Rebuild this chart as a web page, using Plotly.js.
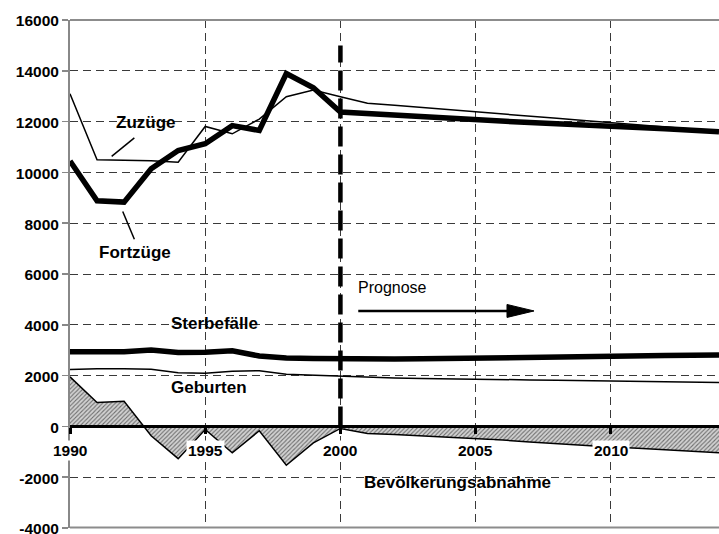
<!DOCTYPE html>
<html>
<head>
<meta charset="utf-8">
<script src="https://cdn.plot.ly/plotly-3.0.1.min.js"></script>
<style>html,body{margin:0;padding:0;background:#fff;}#chart{width:719px;height:534px;}</style>
</head>
<body>
<div id="chart"></div>
<script>
// Data
var years = [1990,1991,1992,1993,1994,1995,1996,1997,1998,1999,2000,2001,2002,2003,2004,2005,2006,2007,2008,2009,2010,2011,2012,2013,2014];
var zuzuege = [13100,10500,10480,10460,10400,11810,11520,12100,12980,13240,12980,12720,12640,12560,12480,12390,12300,12220,12130,12040,11960,11880,11800,11710,11620];
var fortzuege = [10450,8880,8830,10140,10860,11130,11840,11650,13890,13330,12380,12320,12250,12180,12110,12040,12000,11960,11920,11880,11840,11780,11720,11660,11600];
var sterbefaelle = [2940,2940,2940,3010,2910,2920,2980,2770,2690,2670,2650,2650,2650,2660,2680,2700,2720,2730,2740,2760,2770,2780,2790,2800,2810];
var geburten = [2240,2270,2270,2250,2110,2090,2170,2190,2050,2010,1980,1940,1910,1890,1870,1850,1840,1830,1820,1810,1800,1780,1770,1750,1730];
var abnahme = [1950,940,990,-370,-1270,-120,-1040,-170,-1530,-650,-80,-280,-320,-370,-420,-480,-540,-610,-680,-740,-810,-860,-920,-980,-1040];
var xTickVals = [1990,1995,2000,2005,2010];
var xTickText = ['1990','1995','2000','2005','2010'];
var yTickVals = [-4000,-2000,0,2000,4000,6000,8000,10000,12000,14000,16000];
var yTickText = ['-4000','-2000','0','2000','4000','6000','8000','10000','12000','14000','16000'];
var seriesLabels = ['Zuzüge','Fortzüge','Sterbefälle','Geburten','Bevölkerungsabnahme','Prognose'];

var FONT = 'Liberation Sans, Arial, Helvetica, sans-serif';

var traces = [
  {x: years, y: abnahme, type: 'scatter', mode: 'lines', fill: 'tozeroy',
   fillcolor: '#cfcfcf',
   fillpattern: {shape: '/', bgcolor: '#d2d2d2', fgcolor: '#6e6e6e', size: 3, solidity: 0.35},
   line: {color: '#000', width: 1.5}, hoverinfo: 'skip'},
  {x: years, y: geburten, type: 'scatter', mode: 'lines', line: {color: '#000', width: 1.5}},
  {x: years, y: sterbefaelle, type: 'scatter', mode: 'lines', line: {color: '#000', width: 5.5}},
  {x: years, y: fortzuege, type: 'scatter', mode: 'lines', line: {color: '#000', width: 5.5}},
  {x: years, y: zuzuege, type: 'scatter', mode: 'lines', line: {color: '#000', width: 1.5}}
];

var annotations = [];
for (var i = 0; i < xTickVals.length; i++) {
  annotations.push({x: xTickVals[i], y: -930, xref: 'x', yref: 'y', text: xTickText[i], showarrow: false,
    font: {family: FONT, size: 15.5, color: '#000', weight: 'bold'}, bgcolor: '#fff', borderpad: 1,
    xanchor: 'center', yanchor: 'middle'});
}
var lblFont = {family: FONT, size: 17, color: '#000', weight: 'bold'};
annotations.push({x: 1992.80, y: 11950, text: seriesLabels[0], showarrow: false, font: lblFont});
annotations.push({x: 1992.40, y: 6840, text: seriesLabels[1], showarrow: false, font: lblFont});
annotations.push({x: 1995.34, y: 4060, text: seriesLabels[2], showarrow: false, font: lblFont});
annotations.push({x: 1995.13, y: 1535, text: seriesLabels[3], showarrow: false, font: lblFont});
annotations.push({x: 2004.32, y: -2220, text: seriesLabels[4], showarrow: false, font: lblFont});
annotations.push({x: 2001.94, y: 5470, text: seriesLabels[5], showarrow: false,
  font: {family: FONT, size: 16, color: '#000'}});

var shapes = [
  // plot frame top & bottom
  {type: 'line', xref: 'paper', yref: 'paper', x0: 0, x1: 1, y0: 1, y1: 1, line: {color: '#8c8c8c', width: 2}},
  {type: 'line', xref: 'paper', yref: 'paper', x0: 0, x1: 1, y0: 0.001, y1: 0.001, line: {color: '#8c8c8c', width: 2}},
  // forecast divider
  {type: 'line', xref: 'x', yref: 'y', x0: 2000, x1: 2000, y0: 0, y1: 15000, line: {color: '#000', width: 4.5, dash: '20px,8px'}},
  // leader lines
  {type: 'line', xref: 'x', yref: 'y', x0: 1991.54, x1: 1992.38, y0: 10630, y1: 11360, line: {color: '#000', width: 1.5}},
  {type: 'line', xref: 'x', yref: 'y', x0: 1991.95, x1: 1992.38, y0: 8460, y1: 7370, line: {color: '#000', width: 1.5}},
  // Prognose arrow
  {type: 'line', xref: 'x', yref: 'y', x0: 2000.66, x1: 2006.2, y0: 4545, y1: 4545, line: {color: '#000', width: 2.5}},
  {type: 'path', xref: 'x', yref: 'y', path: 'M 2006.16,4290 L 2007.16,4545 L 2006.16,4800 Z', fillcolor: '#000', line: {color: '#000', width: 1}}
];

var layout = {
  width: 719, height: 534,
  margin: {l: 70, r: 0, t: 20, b: 6, pad: 0},
  paper_bgcolor: '#fff', plot_bgcolor: '#fff',
  showlegend: false,
  xaxis: {
    range: [1990, 2014], tickvals: xTickVals, ticktext: xTickText, showticklabels: false,
    anchor: 'free', position: 0.2,
    showline: true, linecolor: '#000', linewidth: 3,
    ticks: 'outside', ticklen: 6, tickwidth: 3, tickcolor: '#000',
    showgrid: true, gridcolor: '#3a3a3a', gridwidth: 1, griddash: '8px,5px',
    zeroline: false, layer: 'above traces', fixedrange: true
  },
  yaxis: {
    range: [-4000, 16000], tickvals: yTickVals, ticktext: yTickText,
    showline: true, linecolor: '#888', linewidth: 2,
    ticks: 'outside', ticklen: 6, tickwidth: 1.5, tickcolor: '#888',
    ticklabeloverflow: 'allow', ticklabelshift: 1,
    tickfont: {family: FONT, size: 15.5, color: '#000', weight: 'bold'},
    showgrid: true, gridcolor: '#3a3a3a', gridwidth: 1, griddash: '8px,5px',
    zeroline: false, fixedrange: true
  },
  annotations: annotations,
  shapes: shapes
};

Plotly.newPlot('chart', traces, layout, {staticPlot: true, displayModeBar: false});
</script>
</body>
</html>
